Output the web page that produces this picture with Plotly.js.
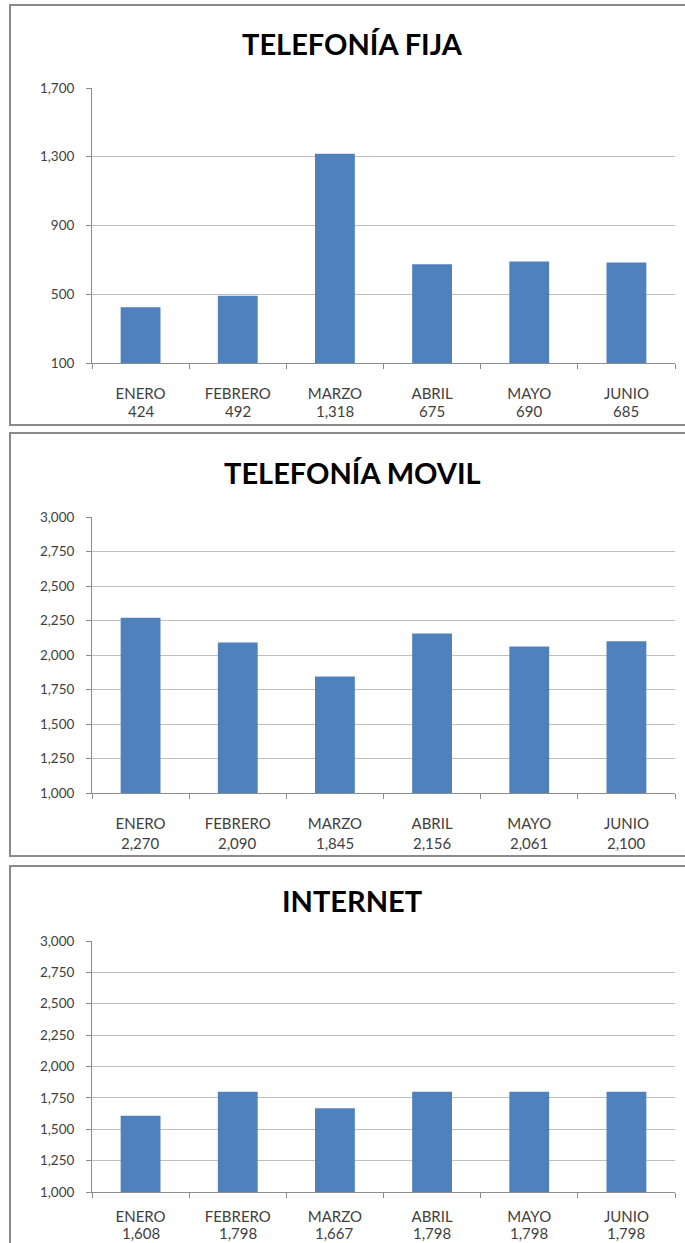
<!DOCTYPE html>
<html>
<head>
<meta charset="utf-8">
<script src="https://cdn.plot.ly/plotly-3.0.1.min.js"></script>
<style>
html,body{margin:0;padding:0;background:#fff;}
#chart{width:685px;height:1243px;}
</style>
</head>
<body>
<div id="chart"></div>
<script>
const months = ["ENERO","FEBRERO","MARZO","ABRIL","MAYO","JUNIO"];
const fijaValues = [424, 492, 1318, 675, 690, 685];
const movilValues = [2270, 2090, 1845, 2156, 2061, 2100];
const internetValues = [1608, 1798, 1667, 1798, 1798, 1798];
const titles = ["TELEFONÍA FIJA", "TELEFONÍA MOVIL", "INTERNET"];
const fijaTicks = [100, 500, 900, 1300, 1700];
const movilTicks = [1000, 1250, 1500, 1750, 2000, 2250, 2500, 2750, 3000];
const internetTicks = [1000, 1250, 1500, 1750, 2000, 2250, 2500, 2750, 3000];

const W = 685, H = 1243;
const py = v => 1 - v / H;
const px = v => v / W;
const FONT = "Lato, 'Open Sans', sans-serif";
const fmt = n => n.toLocaleString("en-US");

const series = [fijaValues, movilValues, internetValues];
const tickSets = [fijaTicks, movilTicks, internetTicks];
const plotBox = [[88, 363], [517, 793], [941, 1192]];
const panelBox = [[5, 425], [433, 856], [866, 1260]];
const titleY = [43, 473, 900];
const monthStandoff = [17, 17, 11];
const valueRowY = [411, 843, 1233];

const data = [];
const layout = {
  width: W, height: H, autosize: false,
  margin: {l: 0, r: 0, t: 0, b: 0},
  paper_bgcolor: "#ffffff", plot_bgcolor: "#ffffff",
  showlegend: false,
  bargap: 0.59,
  font: {family: FONT, color: "#404040", size: 13},
  shapes: [], annotations: []
};

series.forEach((vals, i) => {
  const n = i + 1;
  const xa = "x" + (n === 1 ? "" : n), ya = "y" + (n === 1 ? "" : n);
  const xk = "xaxis" + (n === 1 ? "" : n), yk = "yaxis" + (n === 1 ? "" : n);
  data.push({
    type: "bar", x: months, y: vals, xaxis: xa, yaxis: ya,
    marker: {color: "#4F81BD", line: {width: 0}},
    hoverinfo: "skip"
  });
  const ticks = tickSets[i];
  layout[xk] = {
    domain: [px(92), px(675)],
    anchor: ya,
    type: "category",
    tickmode: "array",
    tickvals: months,
    ticktext: months,
    tickson: "boundaries",
    ticks: "outside", ticklen: 5, tickcolor: "#8c8c8c", tickwidth: 1,
    showline: true, linecolor: "#8c8c8c", linewidth: 1,
    showgrid: false, zeroline: false,
    ticklabelstandoff: monthStandoff[i],
    tickfont: {family: FONT, size: 15, color: "#404040"},
    fixedrange: true
  };
  layout[yk] = {
    domain: [py(plotBox[i][1]), py(plotBox[i][0])],
    anchor: xa,
    range: [ticks[0], ticks[ticks.length - 1]],
    tickmode: "array",
    tickvals: ticks,
    ticktext: ticks.map(fmt),
    ticks: "outside", ticklen: 5, tickcolor: "#8c8c8c", tickwidth: 1,
    showline: true, linecolor: "#8c8c8c", linewidth: 1,
    showgrid: true, gridcolor: "#bfbfbf", gridwidth: 1,
    zeroline: false,
    ticklabelstandoff: 9,
    tickfont: {family: FONT, size: 13.5, color: "#404040"},
    fixedrange: true
  };
  months.forEach((m, k) => {
    layout.annotations.push({
      xref: xa, yref: "paper", x: m, y: py(valueRowY[i]),
      xanchor: "center", yanchor: "middle", showarrow: false,
      text: fmt(vals[k]),
      font: {family: FONT, size: 15, color: "#404040"}
    });
  });
  layout.shapes.push({
    type: "rect", xref: "paper", yref: "paper",
    x0: px(10), x1: px(700), y0: py(panelBox[i][1]), y1: py(panelBox[i][0]),
    line: {color: "#8a8a8a", width: 2}, fillcolor: "rgba(0,0,0,0)", layer: "below"
  });
  layout.annotations.push({
    xref: "paper", yref: "paper", x: px(352), y: py(titleY[i]),
    xanchor: "center", yanchor: "middle", showarrow: false,
    text: "<b>" + titles[i] + "</b>",
    font: {family: FONT, size: 29, color: "#000000"}
  });
});

Plotly.newPlot("chart", data, layout, {staticPlot: true, displayModeBar: false});
</script>
</body>
</html>
